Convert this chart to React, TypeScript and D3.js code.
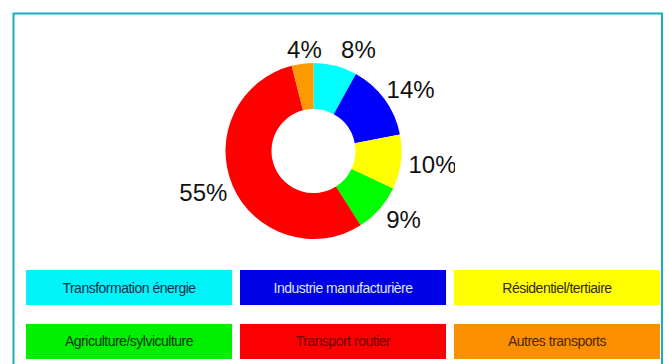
import React from "react";
import * as d3 from "d3";

const categories = [
  "Transformation énergie",
  "Industrie manufacturière",
  "Résidentiel/tertiaire",
  "Agriculture/sylviculture",
  "Transport routier",
  "Autres transports",
];
const values = [8, 14, 10, 9, 55, 4];
const fillColors = ["#00ffff", "#0000ff", "#ffff00", "#00ff00", "#ff0000", "#ff9900"];
const legendFills = ["#00f4fa", "#0000e6", "#ffff00", "#00f000", "#fa0000", "#fa9000"];
const legendTextColors = ["#0e3048", "#dfe4ff", "#332c00", "#08320c", "#700000", "#502600"];

const W = 669;
const H = 364;

export default function App() {
  const cx = 313.5;
  const cy = 151;
  const outerR = 88;
  const innerR = 42;
  const rx = 120;
  const ry = 104;

  const pie = d3.pie<number>().sort(null).value((d) => d);
  const arcs = pie(values);
  const arcGen = d3.arc<d3.PieArcDatum<number>>().innerRadius(innerR).outerRadius(outerR);
  const total = d3.sum(values);

  const legendX = d3.scaleBand<number>().domain([0, 1, 2]).range([26, 660]).paddingInner(0.037).paddingOuter(0);
  const legendY = d3.scaleBand<number>().domain([0, 1]).range([270, 359]).paddingInner(0.35).paddingOuter(0);

  const labels = arcs.map((a, i) => {
    const mid = (a.startAngle + a.endAngle) / 2;
    return {
      x: cx + rx * Math.sin(mid),
      y: cy - ry * Math.cos(mid),
      text: `${Math.round((values[i] / total) * 100)}%`,
    };
  });
  // the two small labels at the top are pushed apart and to the right, as in the source
  const w = 37;
  for (let i = 0; i < labels.length; i++) {
    const a = labels[i];
    const b = labels[(i + labels.length - 1) % labels.length];
    if (Math.abs(a.y - b.y) < 20 && Math.abs(a.x - b.x) < w + 14) {
      const shift = (w + 14 - Math.abs(a.x - b.x)) / 2;
      const right = a.x > b.x ? a : b;
      const left = a.x > b.x ? b : a;
      right.x += shift + 12;
      left.x += 9 - shift;
      const my = (a.y + b.y) / 2;
      a.y = my;
      b.y = my;
    }
  }

  return (
    <svg width={W} height={H} style={{ position: "absolute", left: 0, top: 0, background: "#fff" }}
      fontFamily="'Liberation Sans', Arial, sans-serif">
      <defs>
        <clipPath id="plotClip">
          <rect x={0} y={0} width={455} height={H} />
        </clipPath>
      </defs>
      <rect x={13.5} y={13.5} width={648.5} height={H} fill="none" stroke="#17b0c2" strokeWidth={2} />
      <g transform={`translate(${cx},${cy})`}>
        {arcs.map((a, i) => (
          <path key={i} d={arcGen(a) || ""} fill={fillColors[i]} />
        ))}
      </g>
      <g clipPath="url(#plotClip)">
        {labels.map((l, i) => (
          <text key={i} x={l.x} y={l.y} textAnchor="middle" dominantBaseline="central" fontSize={24} fill="#111">
            {l.text}
          </text>
        ))}
      </g>
      {categories.map((c, i) => {
        const col = i % 3;
        const row = Math.floor(i / 3);
        const x = legendX(col)!;
        const y = legendY(row)!;
        return (
          <g key={c}>
            <rect x={x} y={y} width={legendX.bandwidth()} height={legendY.bandwidth()} fill={legendFills[i]} />
            <text x={x + legendX.bandwidth() / 2} y={y + legendY.bandwidth() / 2} textAnchor="middle"
              dominantBaseline="central" fontSize={14} letterSpacing={-0.5} fill={legendTextColors[i]}>
              {c}
            </text>
          </g>
        );
      })}
    </svg>
  );
}
